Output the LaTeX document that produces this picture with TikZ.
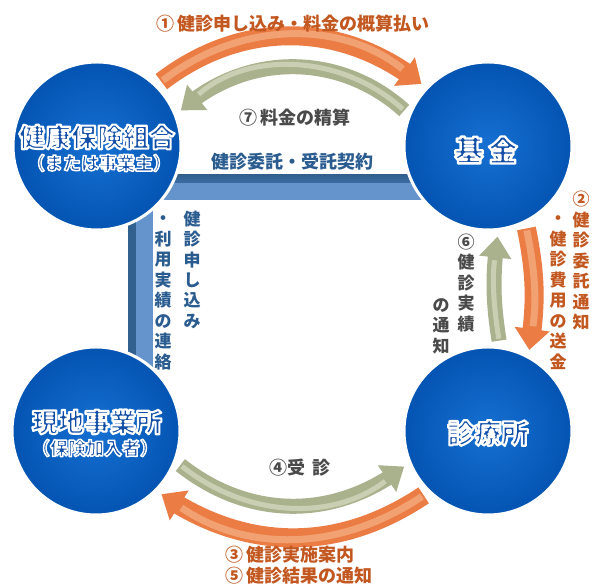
\documentclass[tikz,border=0pt]{standalone}
\usepackage{fontspec}
\newfontfamily\jp{Noto Sans CJK JP}
\usetikzlibrary{arrows.meta,bending}
\definecolor{cirIn}{HTML}{1670D2}
\definecolor{cirOut}{HTML}{0454B2}
\definecolor{textBlue}{HTML}{134FA6}
\definecolor{arrOrange}{HTML}{EA7C44}
\definecolor{arrOrangeLight}{HTML}{F6AE84}
\definecolor{arrGreen}{HTML}{AAB28D}
\definecolor{arrGreenLight}{HTML}{D3D7BE}
\definecolor{barDark}{HTML}{32608F}
\definecolor{barTop}{HTML}{3D6DA3}
\definecolor{barBody}{HTML}{6593CC}
\definecolor{orText}{HTML}{C2571F}
\definecolor{grText}{HTML}{4A4A4A}
\definecolor{blText}{HTML}{2A5C90}
% white outline around the glyphs (fill + stroke render mode)
\newcommand\outlined[2]{\special{pdf:literal direct 1 1 1 RG #1 w 1 j 2 Tr}#2\special{pdf:literal direct 0 Tr}}
\newcommand\vcol[1]{\begin{tabular}{@{}c@{}}#1\end{tabular}}
\begin{document}
\begin{tikzpicture}[x=1pt,y=1pt,
  bigcircle/.style={circle, minimum size=168pt, inner sep=0pt, outer sep=7pt,
    inner color=cirIn, outer color=cirOut, draw=white, line width=3pt},
  orarr/.style={draw=arrOrange, line width=19pt, -{Triangle[width=34pt,length=21pt]}},
  orhl/.style={draw=arrOrangeLight, line width=7pt, shorten >=24pt, shorten <=2pt, opacity=.75},
  grarr/.style={draw=arrGreen, line width=15pt, -{Triangle[width=31pt,length=21pt]}},
  grhl/.style={draw=arrGreenLight, line width=5pt, shorten >=24pt, shorten <=2pt, opacity=.8},
  mainlbl/.style={inner sep=0pt, text=textBlue, font=\jp\bfseries\fontsize{26}{30}\selectfont},
  sublbl/.style={inner sep=0pt, text=textBlue, font=\jp\bfseries\fontsize{18}{22}\selectfont},
  lbl/.style={inner sep=0pt, font=\jp\bfseries\fontsize{18}{20}\selectfont},
  vlbl/.style={inner sep=0pt, font=\jp\bfseries\fontsize{17}{20.3}\selectfont},
]
\useasboundingbox (0,0) rectangle (592,588);
\fill[white] (0,0) rectangle (592,588);

% blue contract bars
\fill[barBody] (150,388) rectangle (440,405);
\fill[top color=barDark, bottom color=barTop] (150,405) rectangle (440,413);
\fill[barDark] (128,208) rectangle (136,398);
\fill[barBody] (136,208) rectangle (153,398);

% circles
\node[bigcircle] (kumiai) at (97,442) {};
\node[bigcircle] (kikin) at (488,442) {};
\node[bigcircle] (jigyo) at (96,157) {};
\node[bigcircle] (shinryo) at (488,157) {};

% arrows
\draw[orarr] (kumiai.45) to[bend left=38] (kikin.137);
\draw[orhl] (kumiai.45) to[bend left=38] (kikin.137);
\draw[grarr] (kikin.157) to[bend right=42] (kumiai.23);
\draw[grhl] (kikin.157) to[bend right=42] (kumiai.23);
\draw[grarr] (shinryo.83) to[bend left=8] (kikin.-84);
\draw[grhl] (shinryo.83) to[bend left=8] (kikin.-84);
\draw[orarr] (kikin.-65) to[bend left=10] (shinryo.63);
\draw[orhl] (kikin.-65) to[bend left=10] (shinryo.63);
\draw[grarr] (jigyo.-22) to[bend right=38] (shinryo.-157);
\draw[grhl] (jigyo.-22) to[bend right=38] (shinryo.-157);
\draw[orarr] (shinryo.-135) to[bend left=34] (jigyo.-44);
\draw[orhl] (shinryo.-135) to[bend left=34] (jigyo.-44);

% circle labels
\node[mainlbl] (kumiaiT) at (97,451) {\outlined{2.1}{健康保険組合}};
\node[sublbl] (kumiaiS) at (99,425) {\outlined{1.5}{（または事業主）}};
\node[mainlbl, font=\jp\bfseries\fontsize{29}{32}\selectfont] (kikinT) at (486,438) {\outlined{2.3}{基\hspace{5pt}金}};
\node[mainlbl] (jigyoT) at (97,166) {\outlined{2.1}{現地事業所}};
\node[sublbl] (jigyoS) at (95,140) {\outlined{1.5}{（保険加入者）}};
\node[mainlbl, font=\jp\bfseries\fontsize{27}{30}\selectfont] (shinryoT) at (488,155) {\outlined{2.2}{診療所}};

% horizontal labels
\node[lbl, text=orText] (t1) at (293,564) {①\,健診申し込み・料金の概算払い};
\node[lbl, text=grText] (t7) at (295,470) {⑦\,料金の精算};
\node[lbl, text=blText] (tk) at (292,426) {健診委託・受託契約};
\node[lbl, text=grText] (t4) at (300,120) {④受\hspace{.4em}診};
\node[lbl, text=orText, anchor=west] (t35) at (225,21)
  {\begin{tabular}{@{}l@{}}③\,健診実施案内\\⑤\,健診結果の通知\end{tabular}};

% vertical labels
\node[vlbl, text=blText] (vl1) at (192,316) {\vcol{健\\診\\申\\し\\込\\み}};
\node[vlbl, text=blText] (vl2) at (163,295.5) {\vcol{・\\利\\用\\実\\績\\の\\連\\絡}};
\node[vlbl, text=grText] (vr1) at (466,303) {\vcol{⑥\\健\\診\\実\\績}};
\node[vlbl, text=grText] (vr2) at (441,260) {\vcol{の\\通\\知}};
\node[vlbl, text=orText] (vo1) at (581,325) {\vcol{②\\健\\診\\委\\託\\通\\知}};
\node[vlbl, text=orText] (vo2) at (558,295.5) {\vcol{・\\健\\診\\費\\用\\の\\送\\金}};
\end{tikzpicture}
\end{document}
